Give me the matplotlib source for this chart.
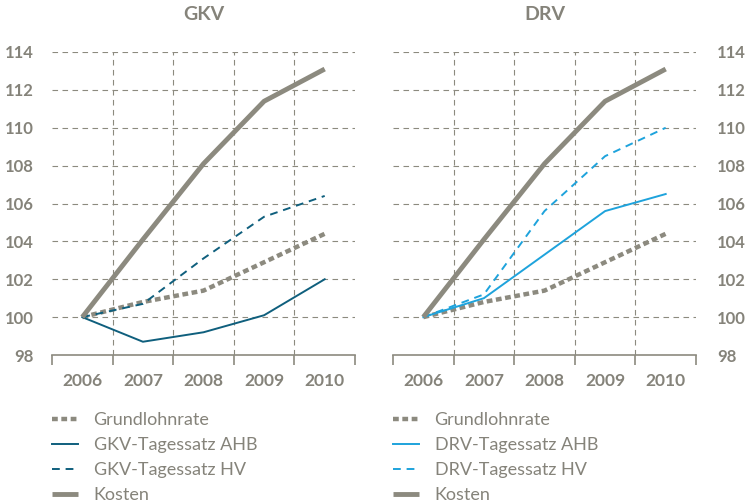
import matplotlib
matplotlib.use("Agg")
import matplotlib.pyplot as plt

# Data (index, 2006 = 100)
years = ["2006", "2007", "2008", "2009", "2010"]
kosten = [100.0, 104.1, 108.1, 111.4, 113.1]
grundlohnrate = [100.0, 100.8, 101.4, 102.9, 104.4]
gkv_ahb = [100.0, 98.7, 99.2, 100.1, 102.0]
gkv_hv = [100.0, 100.7, 103.1, 105.3, 106.4]
drv_ahb = [100.0, 101.0, 103.3, 105.6, 106.5]
drv_hv = [100.0, 101.2, 105.6, 108.5, 110.0]
yticks = [98, 100, 102, 104, 106, 108, 110, 112, 114]

gray = "#8c8a7f"
textgray = "#85837a"
teal = "#0f5f7d"
lightblue = "#1ea3dc"

plt.rcParams["font.family"] = ["Lato", "DejaVu Sans"]

fig = plt.figure(figsize=(7.48, 5.04), dpi=100)
ax1 = fig.add_axes([52 / 748, 1 - 355 / 504, 303 / 748, 303 / 504])
ax2 = fig.add_axes([393 / 748, 1 - 355 / 504, 303 / 748, 303 / 504])

x = list(range(len(years)))


def style(ax, title, side):
    ax.set_xlim(-0.5, 4.5)
    ax.set_ylim(98, 114)
    for s in ["top", "left", "right"]:
        ax.spines[s].set_visible(False)
    ax.spines["bottom"].set_color(gray)
    ax.spines["bottom"].set_linewidth(1.2)
    for yv in yticks[1:]:
        ax.axhline(yv, color=gray, lw=0.8, ls=(0, (5, 4)), zorder=0)
    for xv in [0.5, 1.5, 2.5, 3.5]:
        ax.axvline(xv, color=gray, lw=0.8, ls=(0, (5, 4)), zorder=0)
    ax.set_xticks(x)
    ax.set_xticklabels(years)
    ax.set_xticks([-0.5, 0.5, 1.5, 2.5, 3.5, 4.5], minor=True)
    ax.tick_params(axis="x", which="major", length=0, pad=13,
                   labelsize=12.5, labelcolor=textgray)
    ax.tick_params(axis="x", which="minor", length=7, width=1.2,
                   color=gray, direction="out")
    ax.set_yticks(yticks)
    ax.tick_params(axis="y", length=0, labelsize=12, labelcolor=textgray,
                   pad=(13 if side == "left" else 15),
                   labelleft=(side == "left"),
                   labelright=(side == "right"))
    for lab in ax.get_xticklabels() + ax.get_yticklabels():
        lab.set_fontweight("bold")
    ax.set_title(title, color=textgray, fontsize=14, fontweight="bold", pad=23)


style(ax1, "GKV", "left")
style(ax2, "DRV", "right")

ax1.plot(x, grundlohnrate, color=gray, lw=3.2, ls=(0, (1.3, 0.8)), label="Grundlohnrate")
ax1.plot(x, gkv_ahb, color=teal, lw=1.4, label="GKV-Tagessatz AHB")
ax1.plot(x, gkv_hv, color=teal, lw=1.4, ls=(0, (4, 3)), label="GKV-Tagessatz HV")
ax1.plot(x, kosten, color=gray, lw=3.5, label="Kosten", solid_capstyle="butt")

ax2.plot(x, grundlohnrate, color=gray, lw=3.2, ls=(0, (1.3, 0.8)), label="Grundlohnrate")
ax2.plot(x, drv_ahb, color=lightblue, lw=1.4, label="DRV-Tagessatz AHB")
ax2.plot(x, drv_hv, color=lightblue, lw=1.4, ls=(0, (4, 3)), label="DRV-Tagessatz HV")
ax2.plot(x, kosten, color=gray, lw=3.5, label="Kosten", solid_capstyle="butt")

for ax, xpos in [(ax1, 52 / 748), (ax2, 393 / 748)]:
    h, l = ax.get_legend_handles_labels()
    leg = fig.legend(h, l, loc="upper left", bbox_to_anchor=(xpos, 1 - 412 / 504),
                     frameon=False, borderpad=0, borderaxespad=0,
                     handlelength=1.45, handletextpad=0.85, labelspacing=0.5,
                     prop={"size": 13})
    for t in leg.get_texts():
        t.set_color(textgray)

fig.savefig("out.png", dpi=100)
